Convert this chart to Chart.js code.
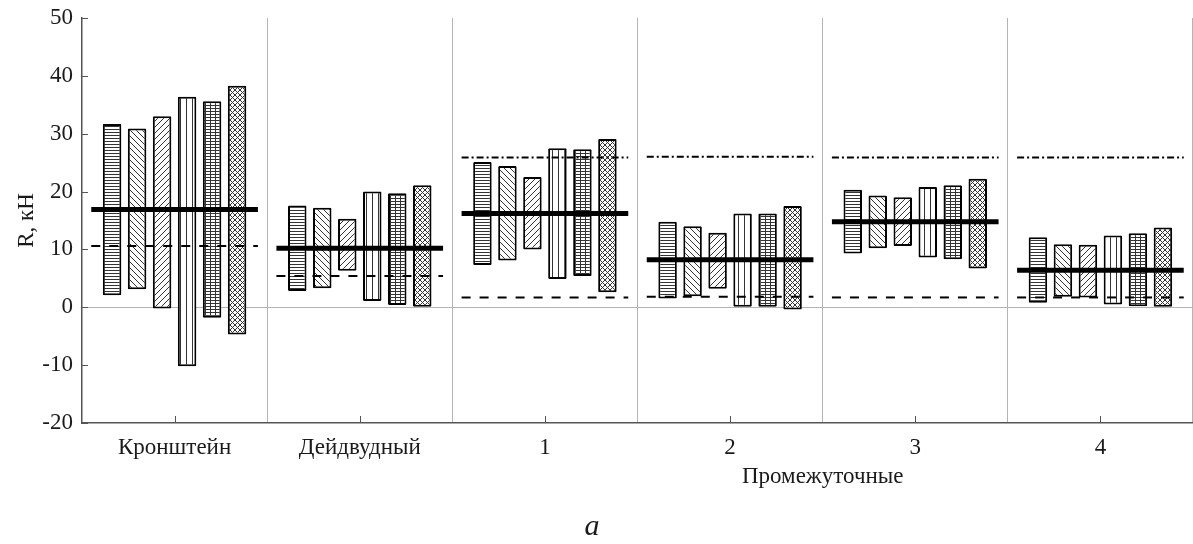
<!DOCTYPE html>
<html>
<head>
<meta charset="utf-8">
<script src="https://cdn.jsdelivr.net/npm/chart.js@4/dist/chart.umd.min.js"></script>
<style>
    html, body { margin: 0; padding: 0; background: #fff; }
    #wrap { width: 1193px; height: 544px; position: relative; }
</style>
</head>
<body>
<div id="wrap"><canvas id="reactionChart"></canvas></div>
<script>
// categories and values
const categories = ['Кронштейн', 'Дейдвудный', '1', '2', '3', '4'];
const yTicks = [-20, -10, 0, 10, 20, 30, 40, 50];

// floating bars [min, max], one array per hatch pattern
const seriesHoriz = [[2.1, 31.7], [2.8, 17.6], [7.3, 25.1], [1.5, 14.8], [9.3, 20.3], [0.8, 12.1]];
const seriesBack  = [[3.1, 30.9], [3.3, 17.2], [8.1, 24.4], [1.9, 14.0], [10.2, 19.3], [1.8, 10.9]];
const seriesFwd   = [[-0.2, 33.0], [6.3, 15.3], [10.0, 22.5], [3.2, 12.9], [10.6, 19.0], [1.7, 10.8]];
const seriesVert  = [[-10.2, 36.4], [1.1, 20.0], [4.9, 27.5], [0.1, 16.2], [8.6, 20.8], [0.5, 12.4]];
const seriesGrid  = [[-1.8, 35.6], [0.4, 19.7], [5.4, 27.3], [0.1, 16.2], [8.3, 21.1], [0.2, 12.8]];
const seriesCross = [[-4.7, 38.3], [0.0, 21.1], [2.6, 29.1], [-0.4, 17.5], [6.7, 22.2], [0.1, 13.8]];

// horizontal levels per group
const meanLevel  = [16.9, 10.2, 16.2, 8.2, 14.8, 6.4];
const lowerLevel = [10.6, 5.4, 1.7, 1.8, 1.7, 1.7];
const upperLevel = [null, null, 25.9, 26.0, 25.9, 25.9];

const serif = '"Liberation Serif", "DejaVu Serif", serif';
const axisGray = '#555555';
const gridGray = '#b4b4b4';

(function(){
    let canvas = document.getElementById('reactionChart');
    let ctx = canvas.getContext('2d');

    function makePattern(kind){
        let c = document.createElement('canvas');
        let w = 6, h = 6;
        if(kind === 'horiz'){ w = 4; h = 3; }
        if(kind === 'vert'){ w = 6; h = 2; }
        if(kind === 'grid'){ w = 5; h = 3; }
        if(kind === 'cross'){ w = 5; h = 5; }
        c.width = w; c.height = h;
        let g = c.getContext('2d');
        g.fillStyle = '#ffffff';
        g.fillRect(0, 0, w, h);
        g.fillStyle = '#333333';
        if(kind === 'horiz'){
            g.fillRect(0, 0, w, 1);
        } else if(kind === 'back'){
            for(let i = 0; i < 6; i++) g.fillRect(i, i, 1, 1);
        } else if(kind === 'fwd'){
            for(let i = 0; i < 6; i++) g.fillRect(5 - i, i, 1, 1);
        } else if(kind === 'vert'){
            g.fillRect(0, 0, 1, h);
        } else if(kind === 'grid'){
            g.fillRect(0, 0, w, 1);
            g.fillRect(0, 0, 1, h);
        } else if(kind === 'cross'){
            for(let i = 0; i < 5; i++){
                g.fillRect(i, i, 1, 1);
                g.fillRect(4 - i, i, 1, 1);
            }
        }
        return ctx.createPattern(c, 'repeat');
    }

    function barSet(data, kind){
        return {
            data: data,
            backgroundColor: makePattern(kind),
            borderColor: '#000000',
            borderWidth: 2,
            borderSkipped: false,
            borderRadius: 1
        };
    }

    // level segments across each group, drawn over the bars
    const levels = {
        id: 'levels',
        afterDatasetsDraw(chart){
            let c = chart.ctx;
            let xs = chart.scales.x;
            let ys = chart.scales.y;
            let step = xs.getPixelForValue(1) - xs.getPixelForValue(0);
            function draw(arr, width, dash){
                c.save();
                c.strokeStyle = '#000000';
                c.lineWidth = width;
                c.lineCap = 'butt';
                c.setLineDash(dash);
                arr.forEach(function(v, i){
                    if(v === null) return;
                    let xc = xs.getPixelForValue(i);
                    let y = ys.getPixelForValue(v);
                    c.beginPath();
                    c.moveTo(xc - step * 0.45, y);
                    c.lineTo(xc + step * 0.45, y);
                    c.stroke();
                });
                c.restore();
            }
            draw(lowerLevel, 2, [9, 9]);
            draw(upperLevel, 2, [7, 3, 2, 3]);
            draw(meanLevel, 5, []);
        }
    };

    const extras = {
        id: 'extras',
        afterDraw(chart){
            let c = chart.ctx;
            let xs = chart.scales.x;
            let ys = chart.scales.y;
            let area = chart.chartArea;
            c.save();
            c.strokeStyle = axisGray;
            c.lineWidth = 1;
            // inward tick marks
            yTicks.forEach(function(t){
                let y = Math.round(ys.getPixelForValue(t)) + 0.5;
                c.beginPath();
                c.moveTo(area.left, y);
                c.lineTo(area.left + 6, y);
                c.stroke();
            });
            categories.forEach(function(cat, i){
                let x = Math.round(xs.getPixelForValue(i)) + 0.5;
                c.beginPath();
                c.moveTo(x, area.bottom);
                c.lineTo(x, area.bottom - 7);
                c.stroke();
            });
            // group caption under the intermediate bearings
            c.fillStyle = '#1a1a1a';
            c.textAlign = 'center';
            c.textBaseline = 'middle';
            c.font = '23px ' + serif;
            let mid = (xs.getPixelForValue(2) + xs.getPixelForValue(5)) / 2;
            c.fillText('Промежуточные', mid, 477);
            c.font = 'italic 30px ' + serif;
            c.fillText('a', 592, 527);
            c.restore();
        }
    };

    new Chart(ctx, {
        type: 'bar',
        data: {
            labels: categories,
            datasets: [
                barSet(seriesHoriz, 'horiz'),
                barSet(seriesBack, 'back'),
                barSet(seriesFwd, 'fwd'),
                barSet(seriesVert, 'vert'),
                barSet(seriesGrid, 'grid'),
                barSet(seriesCross, 'cross')
            ]
        },
        options: {
            responsive: true,
            maintainAspectRatio: false,
            animation: false,
            barPercentage: 0.74,
            categoryPercentage: 0.81,
            layout: { padding: { top: 18, right: 0, left: 0, bottom: 0 } },
            plugins: {
                legend: { display: false },
                tooltip: { enabled: false }
            },
            scales: {
                x: {
                    offset: true,
                    grid: { display: true, offset: true, color: gridGray, lineWidth: 1, drawTicks: false },
                    border: { display: true, color: axisGray, width: 1.5 },
                    ticks: { color: '#1a1a1a', padding: 11, font: { family: serif, size: 23 } },
                    afterFit(scale){
                        scale.height = 121;
                        scale.paddingLeft = 0;
                        scale.paddingRight = 0;
                    }
                },
                y: {
                    min: -20,
                    max: 50,
                    ticks: { stepSize: 10, color: '#1a1a1a', padding: 9, font: { family: serif, size: 23 } },
                    grid: {
                        drawTicks: false,
                        color: function(c){ return c.tick && c.tick.value === 0 ? gridGray : 'rgba(0,0,0,0)'; }
                    },
                    border: { display: true, color: axisGray, width: 1.5 },
                    title: { display: true, text: 'R, кН', color: '#1a1a1a', padding: { top: 13, bottom: 0 }, font: { family: serif, size: 23 } },
                    afterFit(scale){
                        scale.width = 82;
                        scale.paddingTop = 0;
                        scale.paddingBottom = 0;
                    }
                }
            }
        },
        plugins: [levels, extras]
    });
})();
</script>
</body>
</html>
